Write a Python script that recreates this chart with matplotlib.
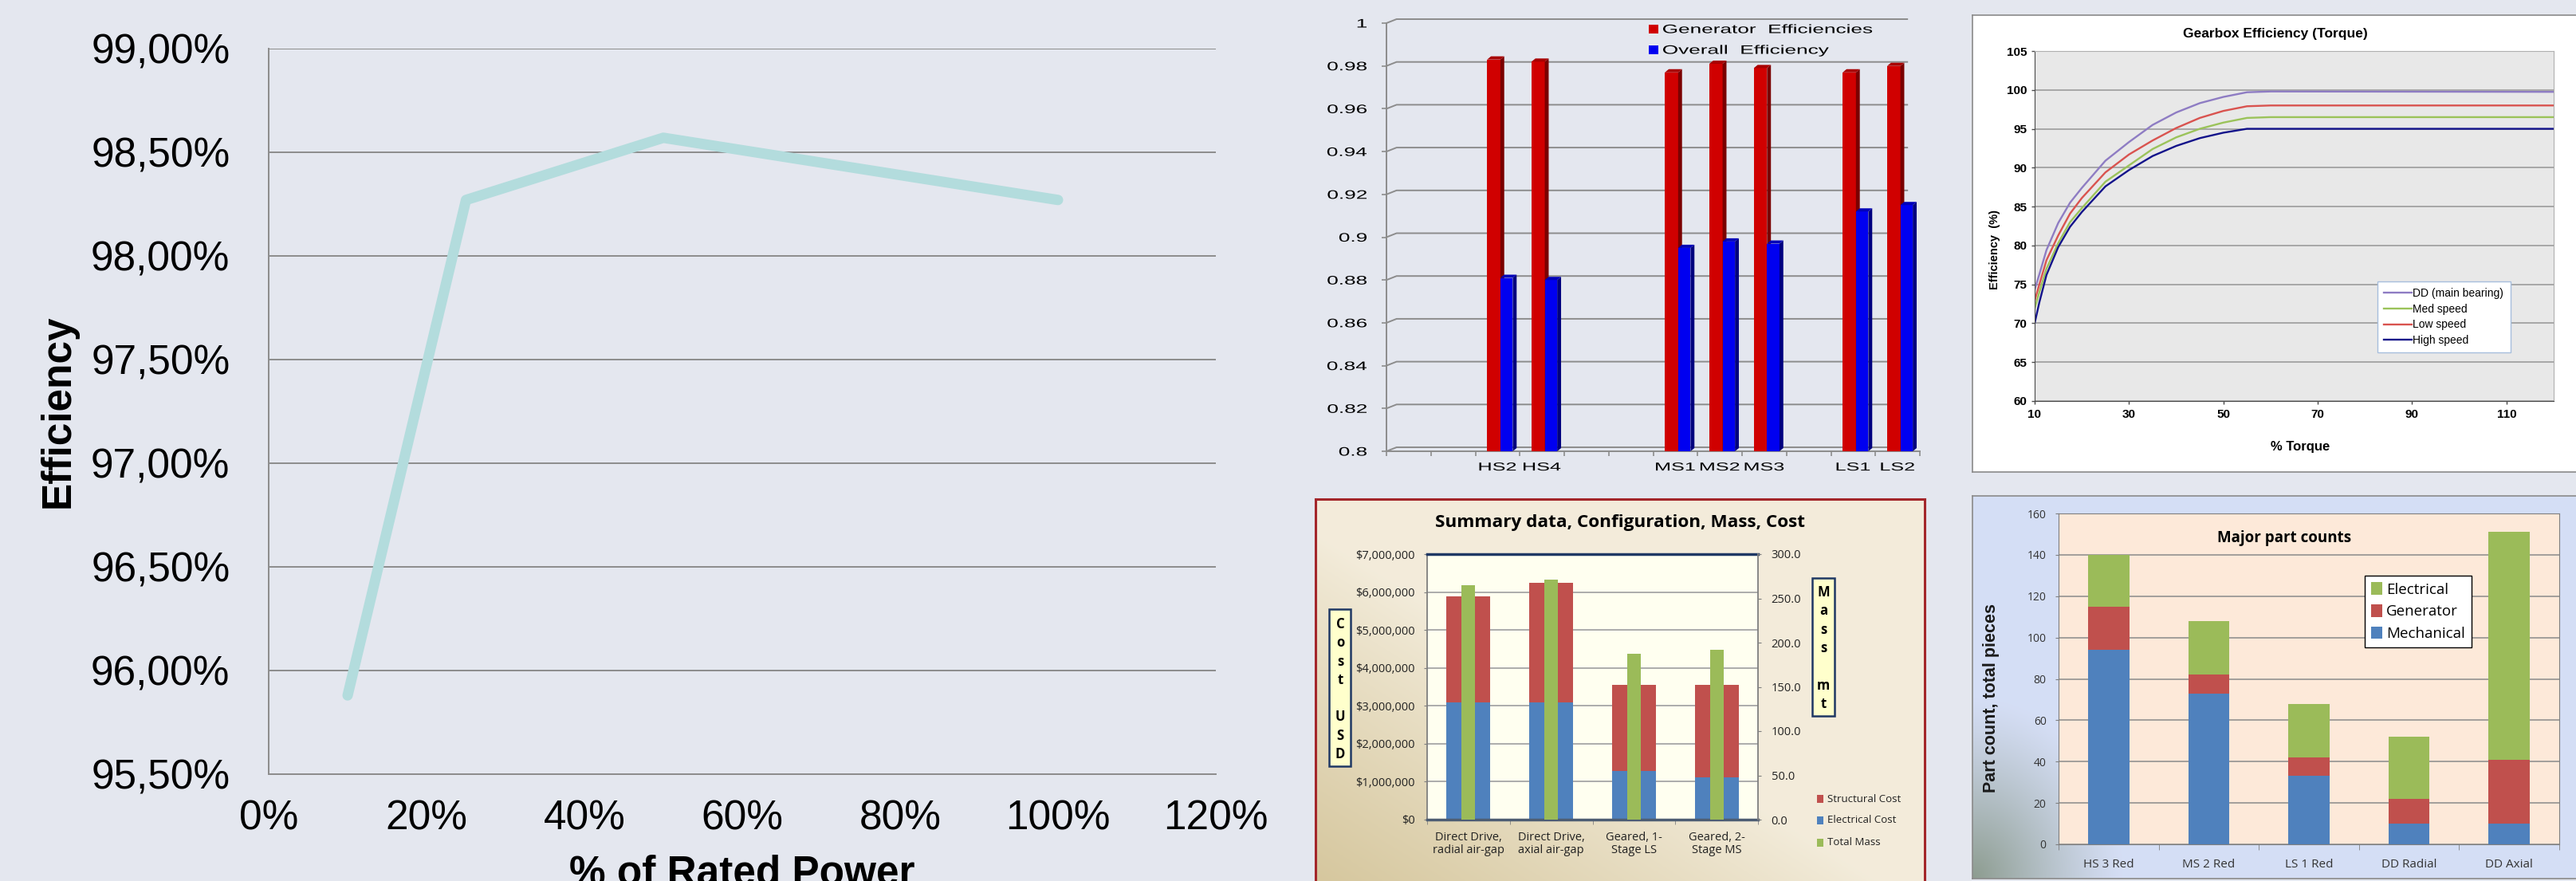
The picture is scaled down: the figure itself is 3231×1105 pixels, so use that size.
import numpy as np
import matplotlib
matplotlib.use('Agg')
import matplotlib.pyplot as plt
from matplotlib import font_manager
from matplotlib.font_manager import FontProperties
from matplotlib.patches import Rectangle, Polygon, PathPatch
from matplotlib.textpath import TextPath
from matplotlib.transforms import Affine2D, Bbox

# --- drive efficiency vs load ---
power_pct = [10, 25, 50, 100]
drive_eff = [95.88, 98.27, 98.57, 98.27]

# --- generator / overall efficiency per configuration (blank slots keep spacing) ---
eff_slots = ['', '', 'HS2', 'HS4', '', '', 'MS1', 'MS2', 'MS3', '', 'LS1', 'LS2']
gen_eff = [np.nan, np.nan, 0.983, 0.982, np.nan, np.nan, 0.977, 0.981, 0.979, np.nan, 0.977, 0.980]
overall_eff = [np.nan, np.nan, 0.881, 0.880, np.nan, np.nan, 0.895, 0.898, 0.897, np.nan, 0.912, 0.915]

# --- gearbox efficiency vs torque ---
torque = [10, 11, 12.5, 15, 17.5, 20, 25, 30, 35, 40, 45, 50, 55, 60, 120]
eff_dd = [74.3, 76.3, 79.4, 82.9, 85.5, 87.4, 90.9, 93.3, 95.5, 97.1, 98.3, 99.1, 99.7, 99.8, 99.75]
eff_med = [71.9, 74.0, 77.0, 80.3, 83.0, 84.8, 88.2, 90.3, 92.4, 93.9, 95.0, 95.8, 96.4, 96.5, 96.5]
eff_low = [72.9, 75.0, 78.1, 81.3, 84.1, 86.1, 89.4, 91.7, 93.5, 95.1, 96.4, 97.3, 97.9, 98.0, 98.0]
eff_high = [70.0, 72.7, 76.2, 79.8, 82.4, 84.3, 87.6, 89.7, 91.5, 92.8, 93.8, 94.5, 95.0, 95.0, 95.0]

# --- cost and mass summary ---
configs = ['Direct Drive,\nradial air-gap', 'Direct Drive,\naxial air-gap',
           'Geared, 1-\nStage LS', 'Geared, 2-\nStage MS']
electrical_cost = [3090000, 3090000, 1280000, 1115000]
structural_cost = [2800000, 3150000, 2270000, 2435000]
total_mass = [264.5, 271.4, 187.6, 191.5]

# --- major part counts ---
part_configs = ['HS 3 Red', 'MS 2 Red', 'LS 1 Red', 'DD Radial', 'DD Axial']
mechanical = [94, 73, 33, 10, 10]
generator = [21, 9, 9, 12, 31]
electrical = [25, 26, 26, 30, 110]

W, H = 3231, 1105
BG = '#E4E7EF'


def pick_font(*names):
    for n in names:
        try:
            font_manager.findfont(FontProperties(family=n), fallback_to_default=False)
            return n
        except ValueError:
            continue
    return 'DejaVu Sans'


ARIAL = pick_font('Liberation Sans', 'Arial')
SOFT = pick_font('Open Sans', 'Liberation Sans')
plt.rcParams['font.family'] = ARIAL

fig = plt.figure(figsize=(W / 100, H / 100), dpi=100, facecolor=BG)


def fx(px):
    return px / W


def fy(py):
    return 1 - py / H


def add_axes_px(x0, y0, x1, y1, **kw):
    return fig.add_axes([x0 / W, 1 - y1 / H, (x1 - x0) / W, (y1 - y0) / H], **kw)


def box_px(x0, y0, x1, y1, **kw):
    r = Rectangle((x0 / W, 1 - y1 / H), (x1 - x0) / W, (y1 - y0) / H,
                  transform=fig.transFigure, **kw)
    fig.add_artist(r)
    return r


def panel(x0, y0, x1, y1, img=None, face='white', edge='#888888', lw=1.2):
    ax = add_axes_px(x0, y0, x1, y1)
    ax.set_zorder(-2)
    ax.set_facecolor(face)
    if img is not None:
        ax.imshow(img, extent=[0, 1, 0, 1], aspect='auto', interpolation='bilinear')
        ax.set_xlim(0, 1)
        ax.set_ylim(0, 1)
    ax.set_xticks([])
    ax.set_yticks([])
    for s in ax.spines.values():
        s.set_color(edge)
        s.set_linewidth(lw)
    return ax


# stretched text used on the 3D bar chart
CLIP_MID = Bbox([[0, 0], [2408, H]])


def wide_text(s, x, y, em, sx, ha='left', color='black'):
    tp = TextPath((0, 0), s, size=em, prop=FontProperties(family=ARIAL))
    ext = tp.get_extents()
    if ha == 'right':
        x0 = x - ext.x1 * sx
    elif ha == 'center':
        x0 = x - (ext.x0 + ext.x1) / 2 * sx
    else:
        x0 = x - ext.x0 * sx
    tr = Affine2D().scale(sx, 1).translate(x0, H - y - 0.358 * em)
    p = PathPatch(tp, transform=tr, fc=color, ec='none', lw=0)
    p.set_clip_box(CLIP_MID)
    fig.add_artist(p)


# ================= efficiency vs rated power =================
ax1 = add_axes_px(337, 61, 1525, 971)
ax1.set_facecolor(BG)
ax1.plot(power_pct, drive_eff, color='#B3DCDD', lw=9.4,
         solid_capstyle='round', solid_joinstyle='round', zorder=3)
ax1.set_xlim(0, 120)
ax1.set_ylim(95.5, 99)
xt = np.arange(0, 121, 20)
ax1.set_xticks(xt, [f'{v}%' for v in xt])
yt = np.arange(95.5, 99.01, 0.5)
ax1.set_yticks(yt, [f'{v:.2f}%'.replace('.', ',') for v in yt])
ax1.grid(axis='y', color='#8C8C8C', lw=1.4)
ax1.set_axisbelow(True)
for s in ['top', 'right']:
    ax1.spines[s].set_visible(False)
for s in ['left', 'bottom']:
    ax1.spines[s].set_color('#8C8C8C')
    ax1.spines[s].set_linewidth(1.4)
ax1.tick_params(axis='both', length=0, labelsize=37)
ax1.tick_params(axis='x', pad=23)
ax1.tick_params(axis='y', pad=35)
fig.text(fx(73), fy(516), 'Efficiency', rotation=90, ha='center', va='center',
         fontsize=37, fontweight='bold')
fig.text(fx(931), fy(1110), '% of Rated Power', ha='center', va='baseline',
         fontsize=37, fontweight='bold')

# ================= 3D clustered columns =================
ax2 = add_axes_px(1739, 29, 2408, 566)
ax2.set_facecolor('none')
x_right = -0.5 + (2408 - 1739) / 57.1
ax2.set_xlim(-0.5, x_right)
ax2.set_ylim(0.8, 1.0)
for s in ['top', 'right']:
    ax2.spines[s].set_visible(False)
for s in ['left', 'bottom']:
    ax2.spines[s].set_color('#8C8C8C')
    ax2.spines[s].set_linewidth(1.4)
yt2 = np.round(np.arange(0.8, 1.0001, 0.02), 2)
ax2.set_yticks(yt2, [''] * len(yt2))
ax2.set_xticks(np.arange(-0.5, 12, 1), [''] * 13)
ax2.tick_params(length=4, width=1.2, color='#8C8C8C', direction='out')

px_x = 1 / 57.1
px_y = 0.2 / 537
for v in yt2:
    ax2.plot([-0.5, -0.5 + 13 * px_x, x_right], [v, v + 5 * px_y, v + 5 * px_y],
             color='#8C8C8C', lw=1.4, clip_on=False, zorder=1)

DX, DY = 5 * px_x, 4 * px_y


def bar3d(ax, xc, w, val, front, side, top, base=0.8):
    ax.bar(xc, val - base, w, bottom=base, color=front, lw=0, zorder=3)
    x0, x1 = xc - w / 2, xc + w / 2
    ax.add_patch(Polygon([(x1, base), (x1 + DX, base + DY), (x1 + DX, val + DY), (x1, val)],
                         closed=True, fc=side, lw=0, zorder=3))
    ax.add_patch(Polygon([(x0, val), (x1, val), (x1 + DX, val + DY), (x0 + DX, val + DY)],
                         closed=True, fc=top, lw=0, zorder=3))


for i, (g, o) in enumerate(zip(gen_eff, overall_eff)):
    if np.isnan(g):
        continue
    bar3d(ax2, i - 0.087, 0.298, g, '#D00000', '#7A0000', '#A80000')
    bar3d(ax2, i + 0.201, 0.28, o, '#0000F0', '#00007F', '#0000B8')

for v in yt2:
    _, yd = ax2.transData.transform((0, v))
    wide_text(f'{v:g}', 1714, H - yd, 15.4, 1.7, ha='right')
for i, name in enumerate(eff_slots):
    if name:
        xd, _ = ax2.transData.transform((i, 0.8))
        wide_text(name, xd, 585, 14.4, 1.75, ha='center')

for label, color, yc in [('Generator  Efficiencies', '#D00000', 36),
                         ('Overall  Efficiency', '#0000F0', 62)]:
    box_px(2068, yc - 5, 2080, yc + 6, fc=color, ec='none', zorder=3)
    wide_text(label, 2086, yc, 15.4, 1.7)

# ================= gearbox efficiency =================
panel(2474, 19, 3260, 592, face='white', edge='#8A8A8A')
ax3 = add_axes_px(2552, 64, 3203, 503)
ax3.set_facecolor('#E8E8E8')
ax3.plot(torque, eff_dd, color='#8E7CC3', lw=1.7, label='DD (main bearing)')
ax3.plot(torque, eff_med, color='#9BC35A', lw=1.7, label='Med speed')
ax3.plot(torque, eff_low, color='#D9534F', lw=1.7, label='Low speed')
ax3.plot(torque, eff_high, color='#12128A', lw=1.7, label='High speed')
ax3.set_xlim(10, 120)
ax3.set_ylim(60, 105)
ax3.set_xticks(np.arange(10, 111, 20))
ax3.set_yticks(np.arange(60, 106, 5))
ax3.grid(axis='y', color='#9C9C9C', lw=1.2)
ax3.set_axisbelow(True)
for s in ['left', 'bottom']:
    ax3.spines[s].set_color('#4A4A4A')
for s in ['top', 'right']:
    ax3.spines[s].set_color('#B0B0B0')
ax3.tick_params(length=3, width=1, color='#4A4A4A', labelsize=11, pad=4)
for lbl in ax3.get_xticklabels() + ax3.get_yticklabels():
    lbl.set_fontweight('bold')
ax3.legend(loc='upper left', bbox_to_anchor=(fx(2982), fy(353)), bbox_transform=fig.transFigure,
           fontsize=10, frameon=True, fancybox=False, edgecolor='#A7BEDD', framealpha=1,
           handlelength=2.5, handletextpad=0.1, borderpad=0.6, labelspacing=0.4,
           borderaxespad=0)
fig.text(fx(2854), fy(43), 'Gearbox Efficiency (Torque)', ha='center', va='center',
         fontsize=12.5, fontweight='bold')
fig.text(fx(2885), fy(561), '% Torque', ha='center', va='center', fontsize=12, fontweight='bold')
fig.text(fx(2502), fy(313), 'Efficiency  (%)', ha='center', va='center', rotation=90,
         fontsize=10.5, fontweight='bold')

# ================= cost / mass summary =================
nx, ny = 2414 - 1650, 1120 - 626
u = np.linspace(0, 1, nx)[None, :]
v = np.linspace(1, 0, ny)[:, None]
t = np.clip(1 - (u * 1.05 + v * 1.1), 0, 1) ** 0.9
c0 = np.array([0.953, 0.925, 0.857])
c1 = np.array([0.835, 0.776, 0.612])
tan_img = c0 * (1 - t[..., None]) + c1 * t[..., None]
panel(1650, 626, 2414, 1120, img=tan_img, edge='#A3262A', lw=2.2)

ax4 = add_axes_px(1790, 695, 2205, 1028)
ax4.set_facecolor('#FFFFF0')
x4 = np.arange(len(configs))
ax4.bar(x4, electrical_cost, 0.53, color='#4F81BD', zorder=2)
ax4.bar(x4, structural_cost, 0.53, bottom=electrical_cost, color='#C0504D', zorder=2)
ax4.set_xlim(-0.5, 3.5)
ax4.set_ylim(0, 7e6)
ct = np.arange(0, 7e6 + 1, 1e6)
ax4.set_yticks(ct, [f'${c:,.0f}' for c in ct])
ax4.grid(axis='y', color='#A6A6A6', lw=1.3)
ax4.set_axisbelow(True)
ax4.set_xticks(x4, configs)
ax4.set_xticks(np.arange(-0.5, 4, 1), minor=True)
ax4.tick_params(axis='x', which='major', length=0, pad=11, labelsize=10.5,
                labelcolor='#222222', labelfontfamily=SOFT)
ax4.tick_params(axis='x', which='minor', length=4, color='#7F7F7F')
ax4.tick_params(axis='y', length=3, pad=8, labelsize=10.5, color='#7F7F7F',
                labelcolor='#222222', labelfontfamily=SOFT)
for lbl in ax4.get_xticklabels():
    lbl.set_linespacing(1.1)
ax4.spines['top'].set_color('#1F3864')
ax4.spines['top'].set_linewidth(2.5)
ax4.spines['bottom'].set_color('#4D5D73')
ax4.spines['bottom'].set_linewidth(2.5)
ax4.spines['left'].set_color('#7F7F7F')
ax4.spines['left'].set_linewidth(1.3)
ax4.spines['right'].set_visible(False)

ax4b = ax4.twinx()
ax4b.bar(x4, total_mass, 0.165, color='#9BBB59', zorder=2)
ax4b.set_ylim(0, 300)
mt = np.arange(0, 301, 50)
ax4b.set_yticks(mt, [f'{m:.1f}' for m in mt])
ax4b.tick_params(axis='y', length=3, pad=9, labelsize=10.5, color='#7F7F7F',
                 labelcolor='#222222', labelfontfamily=SOFT)
for s in ['top', 'bottom', 'left']:
    ax4b.spines[s].set_visible(False)
ax4b.spines['right'].set_color('#7F7F7F')
ax4b.spines['right'].set_linewidth(1.3)

fig.text(fx(2032), fy(656), 'Summary data, Configuration, Mass, Cost', ha='center', va='center',
         fontsize=16.2, fontweight='bold', family=SOFT)

# vertical axis captions in boxes
box_px(1667, 764, 1694, 961, fc='#FFFFCC', ec='#1F3864', lw=1.8, zorder=3)
for k, ch in enumerate('Cost USD'):
    if ch != ' ':
        fig.text(fx(1681), fy(783 + k * 23.3), ch, ha='center', va='center',
                 fontsize=12, fontweight='bold', family=SOFT)
box_px(2273, 725, 2301, 898, fc='#FFFFCC', ec='#1F3864', lw=1.8, zorder=3)
for k, ch in enumerate('Mass mt'):
    if ch != ' ':
        fig.text(fx(2287), fy(743 + k * 23.4), ch, ha='center', va='center',
                 fontsize=12, fontweight='bold', family=SOFT)

for label, color, yc in [('Structural Cost', '#C0504D', 1002),
                         ('Electrical Cost', '#4F81BD', 1029),
                         ('Total Mass', '#9BBB59', 1057)]:
    box_px(2279, yc - 5, 2287, yc + 5, fc=color, ec='none', zorder=3)
    fig.text(fx(2292), fy(yc), label, va='center', fontsize=9.5, family=SOFT, color='#222222')

# ================= part counts =================
nx, ny = 3260 - 2474, 1102 - 622
u = np.linspace(0, nx, nx)[None, :]
v = np.linspace(ny, 0, ny)[:, None]
d = np.sqrt((u * 0.9) ** 2 + (v * 0.75) ** 2)
t = np.clip(1 - d / 170, 0, 1) ** 1.2
c0 = np.array([0.835, 0.871, 0.961])
c1 = np.array([0.55, 0.61, 0.56])
blue_img = c0 * (1 - t[..., None]) + c1 * t[..., None]
panel(2474, 622, 3260, 1102, img=blue_img, edge='#8A8A8A')

ax5 = add_axes_px(2582, 644, 3210, 1059)
ax5.set_facecolor('#FDE9D9')
x5 = np.arange(len(part_configs))
b_mech = ax5.bar(x5, mechanical, 0.41, color='#4F81BD', label='Mechanical', zorder=2)
b_gen = ax5.bar(x5, generator, 0.41, bottom=mechanical, color='#C0504D',
                label='Generator', zorder=2)
b_elec = ax5.bar(x5, electrical, 0.41, bottom=np.add(mechanical, generator), color='#9BBB59',
                 label='Electrical', zorder=2)
ax5.set_xlim(-0.5, 4.5)
ax5.set_ylim(0, 160)
ax5.set_yticks(np.arange(0, 161, 20))
ax5.set_xticks(x5, part_configs)
ax5.set_xticks(np.arange(-0.5, 5, 1), minor=True)
ax5.grid(axis='y', color='#8A8A8A', lw=1.1)
ax5.set_axisbelow(True)
for s in ax5.spines.values():
    s.set_color('#7F7F7F')
ax5.tick_params(axis='x', which='major', length=0, pad=13, labelsize=11,
                labelcolor='#333333', labelfontfamily=SOFT)
ax5.tick_params(axis='x', which='minor', length=5, color='#7F7F7F')
ax5.tick_params(axis='y', length=3, pad=8, labelsize=10, color='#7F7F7F',
                labelcolor='#333333', labelfontfamily=SOFT)
ax5.legend(handles=[b_elec, b_gen, b_mech], loc='upper left',
           bbox_to_anchor=(fx(2966), fy(722)), bbox_transform=fig.transFigure,
           borderaxespad=0, fancybox=False, edgecolor='black', framealpha=1,
           prop={'family': SOFT, 'size': 13.5}, handlelength=0.7, handleheight=0.9,
           handletextpad=0.3, labelspacing=0.5, borderpad=0.45)
fig.text(fx(2865), fy(675), 'Major part counts', ha='center', va='center',
         fontsize=13.5, fontweight='bold', family=SOFT)
fig.text(fx(2498), fy(875), 'Part count, total pieces', ha='center', va='center', rotation=90,
         fontsize=15.5, fontweight='bold', color='#1A1A1A')

fig.savefig('out.png', dpi=100, facecolor=BG)
